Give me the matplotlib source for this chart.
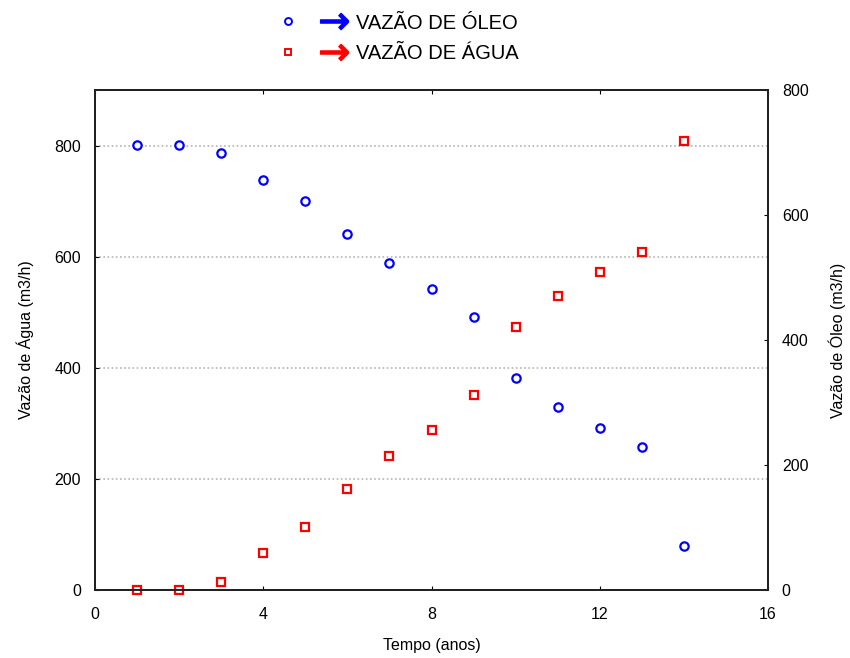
import matplotlib
matplotlib.use('Agg')
import matplotlib.pyplot as plt
from matplotlib.lines import Line2D
from matplotlib.legend_handler import HandlerTuple

# tempo (anos)
anos = [1, 2, 3, 4, 5, 6, 7, 8, 9, 10, 11, 12, 13, 14]
# vazao de agua (m3/h) - eixo esquerdo
agua = [0, 0, 14, 67, 113, 182, 241, 288, 351, 473, 530, 572, 609, 809]
# vazao de oleo (m3/h) - eixo direito
oleo = [712, 712, 699, 656, 622, 570, 523, 482, 437, 339, 293, 259, 229, 70]

xticks = [0, 4, 8, 12, 16]
yticks_agua = [0, 200, 400, 600, 800]
yticks_oleo = [0, 200, 400, 600, 800]

plt.rcParams['font.family'] = ['Liberation Sans', 'DejaVu Sans']

fig = plt.figure(figsize=(8.5, 6.58), dpi=100)
ax1 = fig.add_axes([0.1118, 0.1033, 0.7917, 0.7599])
ax2 = ax1.twinx()

ax1.plot(anos, agua, 's', ms=6, mfc='white', mec='red', mew=1.6, zorder=3, clip_on=False)
ax2.plot(anos, oleo, 'o', ms=6, mfc='white', mec='blue', mew=1.6, zorder=3, clip_on=False)

ax1.set_xlim(0, 16)
ax1.set_ylim(0, 900)
ax2.set_ylim(0, 800)
ax1.set_xticks(xticks)
ax1.set_yticks(yticks_agua)
ax2.set_yticks(yticks_oleo)

ax1.yaxis.grid(True, color='#b4b4b4', linestyle=(0, (1, 1.5)), linewidth=1.2)
ax1.set_axisbelow(True)

ax1.tick_params(axis='both', direction='in', length=3, labelsize=11.5, top=True)
ax1.tick_params(axis='x', pad=12)
ax1.tick_params(axis='y', pad=10)
ax2.tick_params(axis='y', direction='in', length=3, labelsize=11.5, pad=10)

for a in (ax1, ax2):
    for s in a.spines.values():
        s.set_linewidth(1.4)
        s.set_color('#222222')

ax1.set_xlabel('Tempo (anos)', fontsize=11.5, labelpad=12)
ax1.set_ylabel('Vazão de Água (m3/h)', fontsize=11.5, labelpad=15)
ax2.set_ylabel('Vazão de Óleo (m3/h)', fontsize=11.5, labelpad=14, rotation=90)

# legenda com marcador + seta
c1 = Line2D([], [], ls='none', marker='o', ms=5, mfc='white', mec='blue', mew=1.4)
a1 = Line2D([], [], ls='none', marker=r'$\rightarrow$', ms=20, color='blue')
c2 = Line2D([], [], ls='none', marker='s', ms=5, mfc='white', mec='red', mew=1.4)
a2 = Line2D([], [], ls='none', marker=r'$\rightarrow$', ms=20, color='red')
fig.legend([(c1, a1), (c2, a2)], ['VAZÃO DE ÓLEO', 'VAZÃO DE ÁGUA'],
           handler_map={tuple: HandlerTuple(ndivide=None, pad=0.4)},
           loc='upper center', bbox_to_anchor=(0.463, 1.007), frameon=False,
           fontsize=14.5, handlelength=4.2, handletextpad=0.15, labelspacing=0.55)

fig.savefig('out.png', dpi=100)
